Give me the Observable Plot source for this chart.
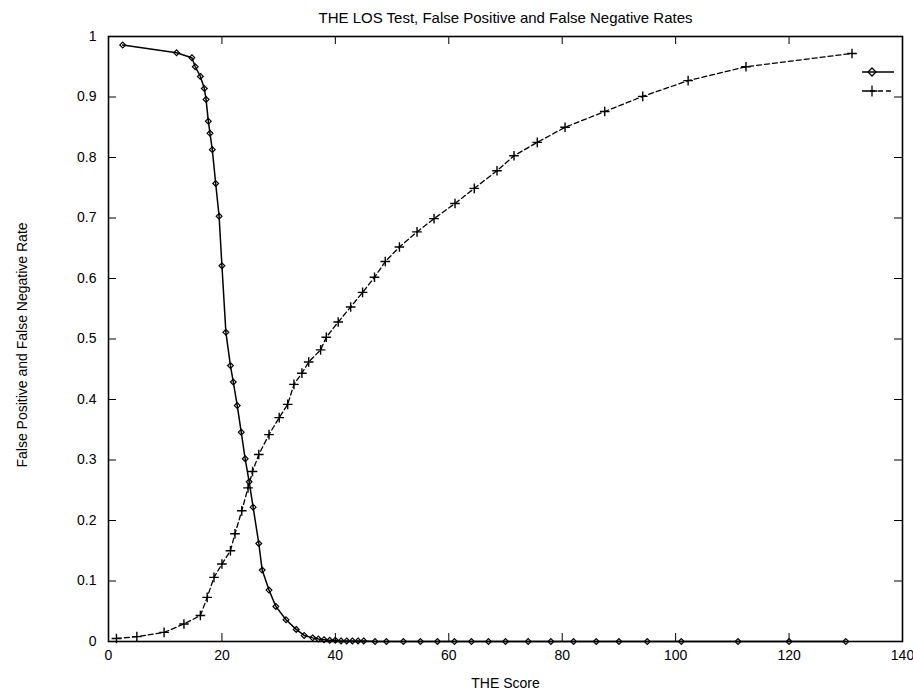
<!DOCTYPE html>
<html>
<head>
<meta charset="utf-8">
<script src="https://cdn.jsdelivr.net/npm/d3@7"></script>
<script src="https://cdn.jsdelivr.net/npm/@observablehq/plot@0.6"></script>
<style>
  body { margin: 0; background: #fff; }
  #wrap { position: relative; width: 913px; height: 698px; }
  #legend { position: absolute; left: 0; top: 0; pointer-events: none; }
</style>
</head>
<body>
<div id="wrap"></div>
<script>
// ---- data ----
const titleText = "THE LOS Test, False Positive and False Negative Rates";
const xLabel = "THE Score";
const yLabel = "False Positive and False Negative Rate";

const xTicks = [0, 20, 40, 60, 80, 100, 120, 140];
const yTicks = [0, 0.1, 0.2, 0.3, 0.4, 0.5, 0.6, 0.7, 0.8, 0.9, 1];

// solid curve (decreasing), diamond markers
const fnScore = [2.5, 12.0, 14.7, 15.3, 16.2, 16.9, 17.2, 17.6, 17.9, 18.3, 18.9, 19.5, 20.0, 20.7, 21.5, 22.0, 22.7, 23.4, 24.1, 24.8, 25.5, 26.5, 27.1, 28.3, 29.5, 31.3, 33.1, 34.5, 36, 37, 38, 39, 40, 41, 42, 43, 44, 45, 47, 49, 52, 55, 58, 61, 64, 67, 70, 74, 78, 82, 86, 90, 95, 101, 111, 120, 130];
const fnRate  = [0.986, 0.973, 0.965, 0.950, 0.934, 0.914, 0.896, 0.860, 0.840, 0.813, 0.757, 0.703, 0.621, 0.511, 0.456, 0.429, 0.390, 0.346, 0.302, 0.264, 0.222, 0.162, 0.118, 0.085, 0.058, 0.036, 0.020, 0.010, 0.006, 0.004, 0.003, 0.002, 0.002, 0.001, 0.001, 0.001, 0.001, 0.001, 0, 0, 0, 0, 0, 0, 0, 0, 0, 0, 0, 0, 0, 0, 0, 0, 0, 0, 0];

// dashed curve (increasing), plus markers
const fpScore = [1.4, 5, 9.8, 13.3, 16.2, 17.4, 18.6, 20.0, 21.5, 22.3, 23.5, 24.6, 25.4, 26.5, 28.3, 30.1, 31.6, 32.7, 34.1, 35.3, 37.4, 38.4, 40.5, 42.7, 44.8, 46.9, 48.8, 51.3, 54.4, 57.4, 61.1, 64.5, 68.5, 71.5, 75.6, 80.5, 87.5, 94.2, 102.2, 112.4, 131.1];
const fpRate  = [0.005, 0.008, 0.015, 0.029, 0.043, 0.073, 0.106, 0.128, 0.150, 0.178, 0.216, 0.254, 0.281, 0.309, 0.342, 0.370, 0.392, 0.425, 0.4435, 0.462, 0.482, 0.503, 0.528, 0.553, 0.577, 0.602, 0.628, 0.652, 0.677, 0.699, 0.724, 0.749, 0.778, 0.803, 0.825, 0.850, 0.876, 0.901, 0.927, 0.950, 0.972];

// ---- build ----
const fn = fnScore.map((x, i) => ({x, y: fnRate[i]}));
const fp = fpScore.map((x, i) => ({x, y: fpRate[i]}));

const W = 913, H = 698, mL = 108, mR = 11, mT = 36, mB = 57;
const pw = W - mL - mR, ph = H - mT - mB;
const yFmt = d => d === 0 ? "0" : d === 1 ? "1" : d.toFixed(1);
const inner = a => a.slice(1, -1);

const chart = Plot.plot({
  width: W, height: H,
  marginLeft: mL, marginRight: mR, marginTop: mT, marginBottom: mB,
  style: {fontFamily: "'Liberation Sans', Arial, Helvetica, sans-serif", fontSize: "14px", color: "black", background: "white", overflow: "visible"},
  x: {domain: [0, 140]},
  y: {domain: [0, 1]},
  marks: [
    Plot.axisX({ticks: xTicks, tickSize: 0, tickPadding: 9, label: null, fontSize: 14}),
    Plot.axisY({ticks: yTicks, tickSize: 0, tickPadding: 12, label: null, tickFormat: yFmt, fontSize: 14}),
    Plot.tickX(inner(xTicks), {x: d => d, insetTop: ph - 8, stroke: "black"}),
    Plot.tickX(inner(xTicks), {x: d => d, insetBottom: ph - 8, stroke: "black"}),
    Plot.tickY(inner(yTicks), {y: d => d, insetRight: pw - 8, stroke: "black"}),
    Plot.tickY(inner(yTicks), {y: d => d, insetLeft: pw - 8, stroke: "black"}),
    Plot.frame({stroke: "black", strokeWidth: 1.6}),
    Plot.line(fp, {x: "x", y: "y", stroke: "black", strokeWidth: 1.3, strokeDasharray: "5,3"}),
    Plot.dot(fp, {x: "x", y: "y", symbol: "plus", r: 3.2, stroke: "black", strokeWidth: 1.4}),
    Plot.line(fn, {x: "x", y: "y", stroke: "black", strokeWidth: 1.5}),
    Plot.dot(fn, {x: "x", y: "y", symbol: "diamond2", r: 2.6, fill: "none", stroke: "black", strokeWidth: 1.2}),
    Plot.text([titleText], {text: d => d, frameAnchor: "top", dy: -24, fontSize: 15}),
    Plot.text([xLabel], {text: d => d, frameAnchor: "bottom", dy: 46, fontSize: 14}),
    Plot.text([yLabel], {text: d => d, frameAnchor: "left", textAnchor: "middle", dx: -86, dy: 6, rotate: -90, fontSize: 14})
  ]
});
const wrap = document.getElementById("wrap");
wrap.appendChild(chart);

// key (sample lines with markers, no labels), as in the reference
const ns = "http://www.w3.org/2000/svg";
const leg = document.createElementNS(ns, "svg");
leg.setAttribute("id", "legend");
leg.setAttribute("width", W);
leg.setAttribute("height", H);
const keys = [{y: 72, dash: null, sym: d3.symbolDiamond2}, {y: 91, dash: "5,3", sym: d3.symbolPlus}];
for (const k of keys) {
  const l = document.createElementNS(ns, "line");
  l.setAttribute("x1", 862); l.setAttribute("x2", 894);
  l.setAttribute("y1", k.y); l.setAttribute("y2", k.y);
  l.setAttribute("stroke", "black"); l.setAttribute("stroke-width", 1.5);
  if (k.dash) l.setAttribute("stroke-dasharray", k.dash);
  leg.appendChild(l);
  const p = document.createElementNS(ns, "path");
  p.setAttribute("d", d3.symbol(k.sym, 40)());
  p.setAttribute("transform", `translate(872,${k.y})`);
  p.setAttribute("fill", "none"); p.setAttribute("stroke", "black"); p.setAttribute("stroke-width", 1.3);
  leg.appendChild(p);
}
wrap.appendChild(leg);
</script>
</body>
</html>
